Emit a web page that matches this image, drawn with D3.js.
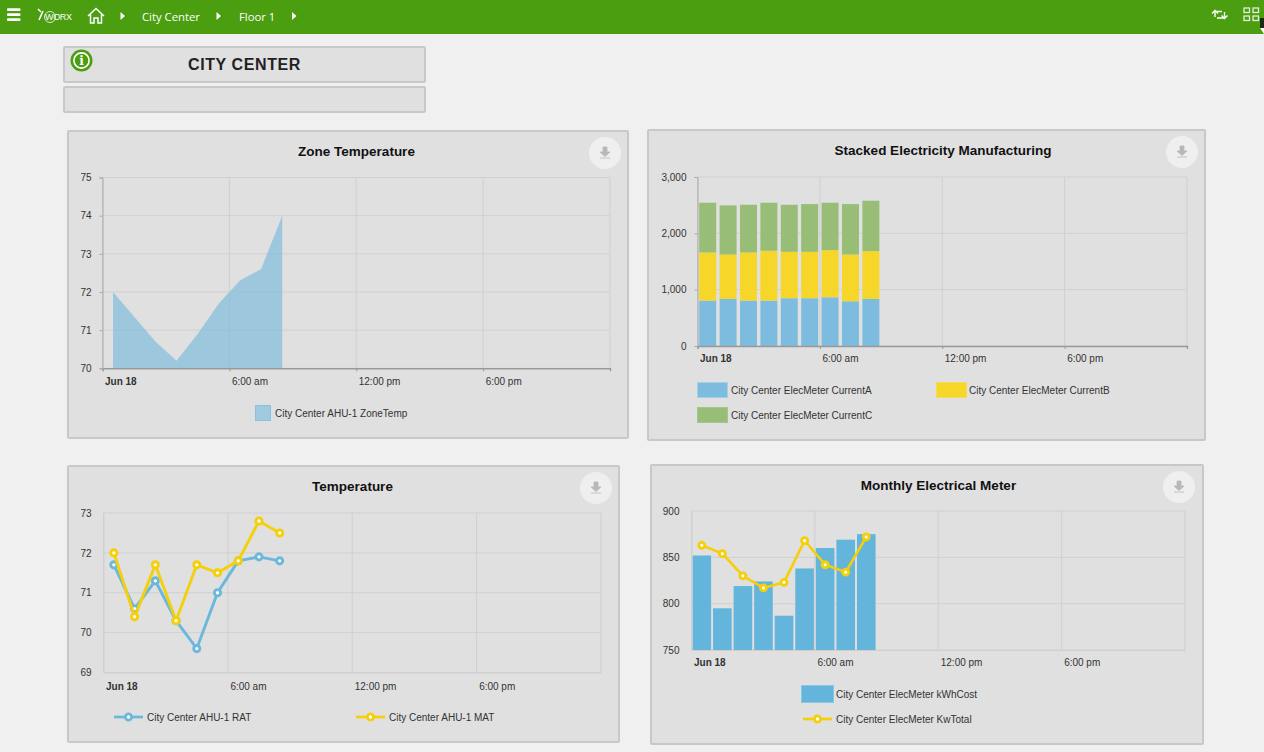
<!DOCTYPE html>
<html><head><meta charset="utf-8"><title>City Center</title>
<script src="https://cdn.jsdelivr.net/npm/d3@7/dist/d3.min.js"></script>
<style>
html,body{margin:0;padding:0;background:#f0f0f0;overflow:hidden}
svg{display:block}
text{font-family:"Liberation Sans",Arial,sans-serif}
.nav{font-family:"Open Sans",sans-serif;font-size:11.3px;fill:#fff}
.tick-label{font-size:10px;fill:#333}
.legend{font-size:10px;fill:#333}
.title{font-size:13.5px;font-weight:700;fill:#111;text-anchor:middle}
</style></head><body>
<svg id="c" width="1264" height="752"></svg>
<script>
// ---- data ----
const hours = [0.5,1.5,2.5,3.5,4.5,5.5,6.5,7.5,8.5];
const xTickHours = [0,6,12,18];
const xTickLabels = ["Jun 18","6:00 am","12:00 pm","6:00 pm"];

const zoneTemp = [72,71.35,70.7,70.2,70.9,71.7,72.3,72.6,74];
const zoneTicks = [70,71,72,73,74,75];

const currentA = [806,836,806,806,848,848,865,794,836];
const currentB = [854,788,854,884,824,824,836,830,848];
const currentC = [883,872,847,853,835,847,842,895,895];
const stackTicks = [0,1000,2000,3000];

const rat = [71.7,70.6,71.3,70.3,69.6,71,71.8,71.9,71.8];
const mat = [72,70.4,71.7,70.3,71.7,71.5,71.8,72.8,72.5];
const tempTicks = [69,70,71,72,73];

const kwhCost = [852,795,819,824,787,838,860,869,875];
const kwTotal = [863,854,830,817,823,868,842,834,872];
const meterTicks = [750,800,850,900];

const BLUE="#6cb8dc", YEL="#f5cf0a";
const svg = d3.select("#c");

// ---- top bar ----
svg.append("rect").attr("width",1264).attr("height",34).attr("fill","#4a9e10");
const nav = svg.append("g");
[9.5,14.5,19.5].forEach(y=>nav.append("rect").attr("x",7).attr("y",y-1.2).attr("width",13.5).attr("height",2.6).attr("rx",1).attr("fill","#fff"));
nav.append("path").attr("d","M38 9 L41 12 M43 11 L39 20").attr("stroke","#fff").attr("stroke-width",1.6).attr("fill","none");
nav.append("circle").attr("cx",50).attr("cy",17).attr("r",5.5).attr("fill","none").attr("stroke","#fff").attr("stroke-width",.8);
nav.append("text").attr("x",45).attr("y",20).attr("font-size",9).attr("fill","#fff").attr("textLength",27).text("WORX");
nav.append("path").attr("d","M88 16 L96 8.5 L104 16 M90.5 14.5 V23 H94 V18 H98 V23 H101.5 V14.5").attr("fill","none").attr("stroke","#fff").attr("stroke-width",1.5);
[122.5,218.5,294].forEach(x=>nav.append("path").attr("d",`M${x-2} 12 L${x+2.5} 16 L${x-2} 20 Z`).attr("fill","#fff"));
nav.append("text").attr("class","nav").attr("x",142).attr("y",21).text("City Center");
nav.append("text").attr("class","nav").attr("x",239).attr("y",21).text("Floor 1");
nav.append("path").attr("d","M1215 17 V11.5 H1222 M1224.5 12 V18 H1217 M1212 13.5 L1215 10.5 L1218 13.5 M1221.5 15.5 L1224.5 18.5 L1227.5 15.5").attr("fill","none").attr("stroke","#fff").attr("stroke-width",1.4);
[[1244,8],[1253,8],[1244,16],[1253,16]].forEach(([x,y])=>nav.append("rect").attr("x",x).attr("y",y).attr("width",5.5).attr("height",4.5).attr("fill","none").attr("stroke","#e4f0da").attr("stroke-width",1.3));
nav.append("path").attr("d","M1260 18 H1264 V28 L1262 30 L1260 28 Z").attr("fill","#1c2a12");
nav.append("path").attr("d","M1260 28 L1264 34 V28 Z").attr("fill","#fff");

// ---- panels ----
function box(x0,y0,x1,y1){
  svg.append("rect").attr("x",x0).attr("y",y0).attr("width",x1-x0).attr("height",y1-y0)
    .attr("fill","#e0e0e0").attr("stroke","#c8c8c8").attr("stroke-width",2).attr("rx",1);
}
box(64,47,425,82); box(64,87,425,112);
svg.append("text").attr("x",244.5).attr("y",69.5).attr("text-anchor","middle").attr("font-size",16).attr("font-weight",700).attr("letter-spacing",.6).attr("fill","#222").text("CITY CENTER");
svg.append("circle").attr("cx",81.5).attr("cy",60.5).attr("r",11).attr("fill","#4a9e10");
svg.append("circle").attr("cx",81.5).attr("cy",60.5).attr("r",7.6).attr("fill","none").attr("stroke","#fff").attr("stroke-width",1.6);
svg.append("text").attr("x",81.5).attr("y",65).attr("text-anchor","middle").attr("font-size",12).attr("font-weight",700).attr("fill","#fff").style("font-family","'DejaVu Serif',serif").text("i");

function chart(o){
  box(o.box[0],o.box[1],o.box[2],o.box[3]);
  const g = svg.append("g");
  const x = d3.scaleLinear().domain([0,24]).range([o.l,o.r]);
  const y = d3.scaleLinear().domain(o.yDomain).range([o.b,o.t]);
  g.append("text").attr("class","title").attr("x",o.titleX).attr("y",o.titleY).text(o.title);
  // download button
  const bx=o.btn[0], by=o.btn[1];
  g.append("circle").attr("cx",bx).attr("cy",by).attr("r",16).attr("fill","#efefef");
  g.append("path").attr("d",`M${bx-2} ${by-6} H${bx+2} V${by-1} H${bx+5} L${bx} ${by+3.5} L${bx-5} ${by-1} H${bx-2} Z M${bx-5} ${by+5} H${bx+5}`).attr("fill","#b8b8b8").attr("stroke","#b8b8b8").attr("stroke-width",.8);
  // grid
  g.selectAll(".gx").data(xTickHours.concat([24])).join("line").attr("x1",d=>x(d)).attr("x2",d=>x(d)).attr("y1",o.t).attr("y2",o.b).attr("stroke","#cfcfcf");
  g.selectAll(".gy").data(o.yTicks).join("line").attr("x1",o.l).attr("x2",o.r).attr("y1",d=>y(d)).attr("y2",d=>y(d)).attr("stroke","#d0d0d0");
  // marks
  o.marks(g,x,y);
  // axes
  const ax = g.append("g").attr("transform",`translate(0,${o.b})`)
    .call(d3.axisBottom(x).tickValues(xTickHours).tickSize(o.dark?3:0).tickPadding(o.xPad).tickFormat((d,i)=>xTickLabels[i]));
  ax.select(".domain").attr("stroke",o.dark?"#999":"#cfcfcf").attr("stroke-width",o.dark?1.4:1);
  ax.selectAll(".tick line").attr("stroke","#999");
  ax.selectAll("text").attr("class","tick-label").attr("text-anchor","start").attr("dx",2).style("font-weight",(d,i)=>i==0?"700":"400");
  const ay = g.append("g").attr("transform",`translate(${o.l},0)`)
    .call(d3.axisLeft(y).tickValues(o.yTicks).tickSize(o.dark?3:0).tickPadding(o.yPad).tickFormat(d3.format(",")));
  ay.select(".domain").attr("stroke",o.dark?"#aaa":"#cfcfcf");
  ay.selectAll(".tick line").attr("stroke","#aaa");
  ay.selectAll("text").attr("class","tick-label");
  o.legend(g);
}
function swatch(g,x,yy,w,h,fill,stroke,label,tx){
  g.append("rect").attr("x",x).attr("y",yy).attr("width",w).attr("height",h).attr("fill",fill).attr("stroke",stroke);
  g.append("text").attr("class","legend").attr("x",tx).attr("y",yy+h/2+3.5).text(label);
}
function lineKey(g,x,yy,col,label,tx){
  g.append("line").attr("x1",x).attr("x2",x+29).attr("y1",yy).attr("y2",yy).attr("stroke",col).attr("stroke-width",2.7);
  g.append("circle").attr("cx",x+14.5).attr("cy",yy).attr("r",3.1).attr("fill","#fff").attr("stroke",col).attr("stroke-width",2.8);
  g.append("text").attr("class","legend").attr("x",tx).attr("y",yy+3.5).text(label);
}
function lineSeries(g,x,y,vals,col,w,r){
  const l=d3.line().x((d,i)=>x(hours[i])).y(d=>y(d));
  g.append("path").datum(vals).attr("d",l).attr("fill","none").attr("stroke",col).attr("stroke-width",w);
  g.append("g").selectAll("circle").data(vals).join("circle").attr("cx",(d,i)=>x(hours[i])).attr("cy",d=>y(d)).attr("r",r).attr("fill","#fff").attr("stroke",col).attr("stroke-width",2.9);
}

chart({box:[68,131,628,438],l:102.5,r:610,t:177.5,b:368.3,yDomain:[70,75],yTicks:zoneTicks,dark:true,xPad:7,yPad:8,
  title:"Zone Temperature",titleX:356.5,titleY:155.5,btn:[605,153],
  marks(g,x,y){
    const a=d3.area().x((d,i)=>x(hours[i])).y0(y(70)).y1(d=>y(d));
    g.append("path").datum(zoneTemp).attr("d",a).attr("fill","#80bcdc").attr("fill-opacity",.7);
  },
  legend(g){swatch(g,255.5,405.5,15,15,"#a0cae0","#8cc0de","City Center AHU-1 ZoneTemp",275);}
});

chart({box:[648,130,1205,440],l:697.5,r:1187,t:177,b:346,yDomain:[0,3000],yTicks:stackTicks,dark:true,xPad:6,yPad:8,
  title:"Stacked Electricity Manufacturing",titleX:943,titleY:154.5,btn:[1182,152],
  marks(g,x,y){
    const keys=["a","b","c"], cols=["#7dbcdf","#f6d629","#97bd77"];
    const rows=hours.map((h,i)=>({h,a:currentA[i],b:currentB[i],c:currentC[i]}));
    const st=d3.stack().keys(keys)(rows);
    st.forEach((s,k)=>g.append("g").selectAll("rect").data(s).join("rect")
      .attr("x",d=>x(d.data.h)-8.5).attr("width",17).attr("y",d=>y(d[1])).attr("height",d=>y(d[0])-y(d[1])).attr("fill",cols[k]));
  },
  legend(g){
    swatch(g,697.5,382.5,30,15,"#7dbcdf","#a5cfe6","City Center ElecMeter CurrentA",731);
    swatch(g,936.5,382.5,30,15,"#f6d629","#f5dc5a","City Center ElecMeter CurrentB",969);
    swatch(g,697.5,407.5,30,15,"#97bd77","#a5c58c","City Center ElecMeter CurrentC",731);
  }
});

chart({box:[68,466,619,742],l:103.5,r:601,t:513,b:672.5,yDomain:[69,73],yTicks:tempTicks,dark:false,xPad:10,yPad:12,
  title:"Temperature",titleX:352.5,titleY:491,btn:[596,488],
  marks(g,x,y){ lineSeries(g,x,y,rat,BLUE,2.9,3.1); lineSeries(g,x,y,mat,YEL,2.9,3.1); },
  legend(g){
    lineKey(g,114,717,BLUE,"City Center AHU-1 RAT",147);
    lineKey(g,356,717,YEL,"City Center AHU-1 MAT",389);
  }
});

chart({box:[651,465,1203,744],l:691.5,r:1185,t:511,b:650,yDomain:[750,900],yTicks:meterTicks,dark:false,xPad:9,yPad:12,
  title:"Monthly Electrical Meter",titleX:938.5,titleY:489.5,btn:[1179,487],
  marks(g,x,y){
    g.append("g").selectAll("rect").data(kwhCost).join("rect").attr("x",(d,i)=>x(hours[i])-9.3).attr("width",18.6).attr("y",d=>y(d)).attr("height",d=>y(750)-y(d)).attr("fill","#63b5dc");
    lineSeries(g,x,y,kwTotal,YEL,2.6,3);
  },
  legend(g){
    swatch(g,801.5,685.5,32,17,"#63b5dc","#8ac7e4","City Center ElecMeter kWhCost",836);
    lineKey(g,803,719,YEL,"City Center ElecMeter KwTotal",836);
  }
});
</script></body></html>
